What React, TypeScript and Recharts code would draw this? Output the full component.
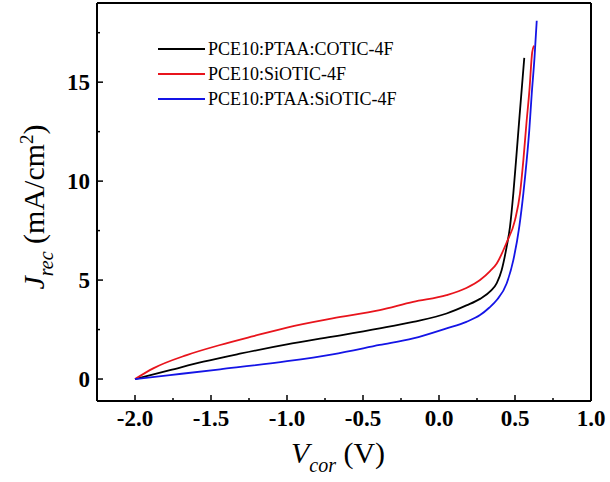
import React from "react";
import { LineChart, Line, XAxis, YAxis, Legend, ReferenceLine } from "recharts";

// Corrected voltage (V) and recombination current density (mA/cm^2) for each blend
const blackV = [-2.0, -1.77, -1.55, -1.31, -1.0, -0.7, -0.39, -0.17, 0.05, 0.18, 0.27, 0.34, 0.38, 0.412, 0.445, 0.467, 0.489, 0.507, 0.53, 0.561];
const blackJ = [0, 0.45, 0.88, 1.28, 1.75, 2.14, 2.56, 2.89, 3.31, 3.72, 4.05, 4.45, 4.85, 5.5, 6.68, 7.69, 9.38, 11.06, 13.3, 16.23];

const redV = [-2.0, -1.88, -1.66, -1.44, -1.22, -1.0, -0.7, -0.39, -0.17, 0.05, 0.18, 0.27, 0.336, 0.38, 0.445, 0.5, 0.533, 0.555, 0.575, 0.595, 0.613, 0.625];
const redJ = [0, 0.54, 1.21, 1.72, 2.17, 2.6, 3.06, 3.48, 3.9, 4.24, 4.6, 5.0, 5.45, 5.84, 6.9, 8.03, 9.38, 11.06, 12.9, 14.6, 16.5, 16.85];

const blueV = [-2.0, -1.77, -1.44, -1.0, -0.7, -0.39, -0.17, 0.05, 0.18, 0.27, 0.33, 0.38, 0.445, 0.489, 0.528, 0.555, 0.577, 0.594, 0.61, 0.628, 0.643];
const blueJ = [0, 0.2, 0.49, 0.9, 1.25, 1.72, 2.05, 2.56, 2.89, 3.23, 3.6, 3.99, 4.83, 6.01, 7.69, 9.38, 11.06, 12.58, 14.4, 16.2, 18.1];

const seriesNames = ["PCE10:PTAA:COTIC-4F", "PCE10:SiOTIC-4F", "PCE10:PTAA:SiOTIC-4F"];
const seriesColors = ["#000000", "#e8141c", "#1414e6"];

const xTicks = [-2.0, -1.75, -1.5, -1.25, -1.0, -0.75, -0.5, -0.25, 0.0, 0.25, 0.5, 0.75, 1.0];
const yTicks = [0, 2.5, 5, 7.5, 10, 12.5, 15, 17.5];

const toPoints = (v: number[], j: number[]) => v.map((x, i) => ({ v: x, j: j[i] }));
const blackData = toPoints(blackV, blackJ);
const redData = toPoints(redV, redJ);
const blueData = toPoints(blueV, blueJ);

const FONT = "Liberation Serif, Times New Roman, DejaVu Serif, serif";

const isMultiple = (val: number, step: number) => Math.abs(val / step - Math.round(val / step)) < 1e-6;

// Bottom axis tick: inward tick mark plus bold label on major values
const XTick = (props: any) => {
  const { x, y, payload } = props;
  const major = isMultiple(payload.value, 0.5);
  return (
    <g>
      <line x1={x} y1={y} x2={x} y2={y - (major ? 6 : 3)} stroke="#000" strokeWidth={1.5} />
      {major && (
        <text x={x} y={y + 25} textAnchor="middle" style={{ fontFamily: FONT, fontWeight: "bold", fontSize: 23 }} fill="#000">
          {payload.value.toFixed(1)}
        </text>
      )}
    </g>
  );
};

// Left axis tick: inward tick mark plus bold label on major values
const YTick = (props: any) => {
  const { x, y, payload } = props;
  const major = isMultiple(payload.value, 5);
  return (
    <g>
      <line x1={x} y1={y} x2={x + (major ? 6 : 3)} y2={y} stroke="#000" strokeWidth={1.5} />
      {major && (
        <text x={x - 7} y={y + 8} textAnchor="end" style={{ fontFamily: FONT, fontWeight: "bold", fontSize: 23 }} fill="#000">
          {payload.value}
        </text>
      )}
    </g>
  );
};

const XLabel = (props: any) => {
  const { viewBox } = props;
  const cx = viewBox.x + viewBox.width / 2 - 6;
  const base = viewBox.y + 62;
  return (
    <text x={cx} y={base} textAnchor="middle" style={{ fontFamily: FONT, fontSize: 30 }} fill="#000">
      <tspan fontStyle="italic">V</tspan>
      <tspan fontStyle="italic" fontSize={20} dy={9}>cor</tspan>
      <tspan dy={-9}> (V)</tspan>
    </text>
  );
};

const YLabel = (props: any) => {
  const { viewBox } = props;
  const cx = 44;
  const cy = viewBox.y + viewBox.height / 2 + 5;
  return (
    <text
      x={cx}
      y={cy}
      transform={`rotate(-90 ${cx} ${cy})`}
      textAnchor="middle"
      style={{ fontFamily: FONT, fontSize: 30 }}
      fill="#000"
    >
      <tspan fontStyle="italic">J</tspan>
      <tspan fontStyle="italic" fontSize={20} dy={9}>rec</tspan>
      <tspan dy={-9}> (mA/cm</tspan>
      <tspan fontSize={19} dy={-11}>2</tspan>
      <tspan dy={11}>)</tspan>
    </text>
  );
};

const LegendBox = (props: any) => {
  const entries = [...(props.payload || [])].sort(
    (a: any, b: any) => seriesNames.indexOf(a.value) - seriesNames.indexOf(b.value)
  );
  return (
    <svg width={260} height={80}>
      {entries.map((entry: any, i: number) => (
        <g key={entry.value}>
          <line x1={0} y1={14 + i * 25} x2={47} y2={14 + i * 25} stroke={entry.color} strokeWidth={2} />
          <text x={50} y={20 + i * 25} style={{ fontFamily: FONT, fontSize: 18 }} fill="#000">
            {entry.value}
          </text>
        </g>
      ))}
    </svg>
  );
};

export default function App() {
  return (
    <div style={{ position: "absolute", left: 0, top: 0, background: "#fff", fontFamily: FONT }}>
      <LineChart width={610} height={482} margin={{ top: 3, right: 19, left: 0, bottom: 0 }}>
        <XAxis
          dataKey="v"
          type="number"
          domain={[-2.25, 1.0]}
          ticks={xTicks}
          interval={0}
          allowDataOverflow
          tickSize={0}
          tickMargin={0}
          tickLine={false}
          tick={<XTick />}
          axisLine={{ stroke: "#000", strokeWidth: 2 }}
          height={81}
          label={<XLabel />}
        />
        <YAxis
          type="number"
          domain={[-1.11, 19]}
          ticks={yTicks}
          interval={0}
          allowDataOverflow
          tickSize={0}
          tickMargin={0}
          tickLine={false}
          tick={<YTick />}
          axisLine={{ stroke: "#000", strokeWidth: 2 }}
          width={97}
          label={<YLabel />}
        />
        <ReferenceLine y={19} stroke="#000" strokeWidth={2} />
        <ReferenceLine x={1.0} stroke="#000" strokeWidth={2} />
        <Legend
          layout="vertical"
          verticalAlign="middle"
          align="center"
          wrapperStyle={{ left: 158, top: 35, width: 260 }}
          content={<LegendBox />}
        />
        <Line data={blackData} dataKey="j" name={seriesNames[0]} stroke={seriesColors[0]} strokeWidth={1.8} dot={false} type="monotone" isAnimationActive={false} />
        <Line data={redData} dataKey="j" name={seriesNames[1]} stroke={seriesColors[1]} strokeWidth={1.8} dot={false} type="monotone" isAnimationActive={false} />
        <Line data={blueData} dataKey="j" name={seriesNames[2]} stroke={seriesColors[2]} strokeWidth={1.8} dot={false} type="monotone" isAnimationActive={false} />
      </LineChart>
    </div>
  );
}
